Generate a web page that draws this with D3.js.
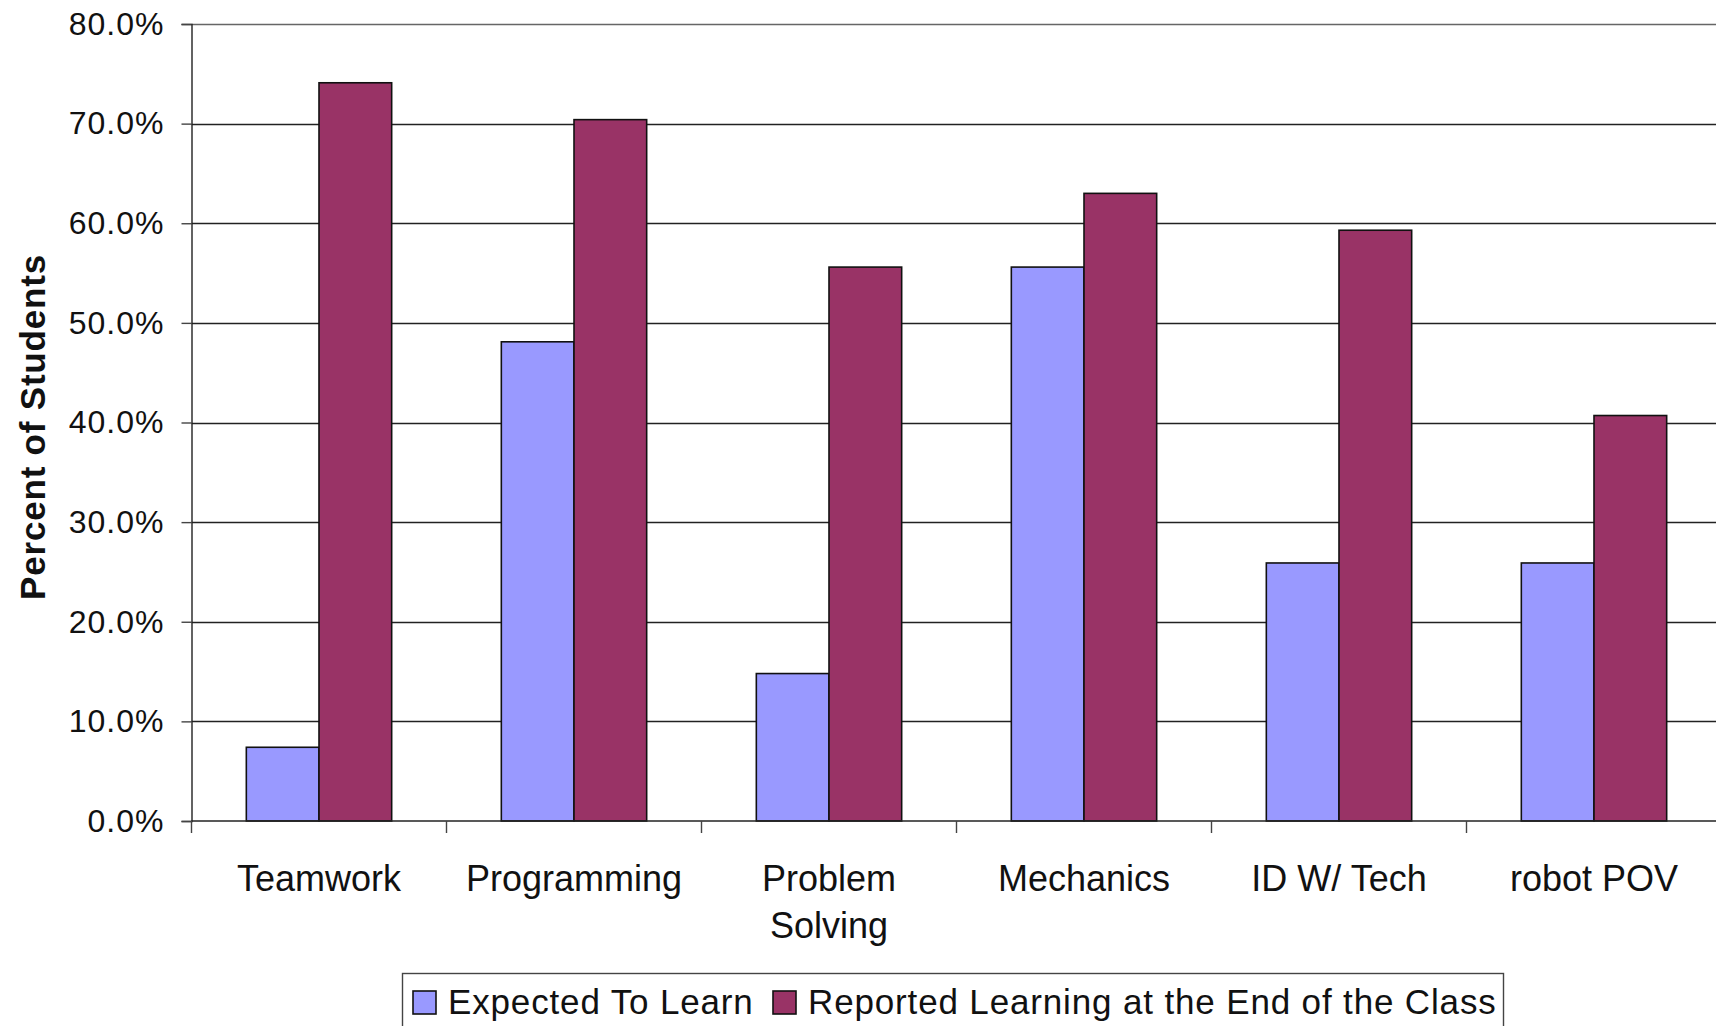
<!DOCTYPE html>
<html lang="en">
  <head>
    <meta charset="UTF-8" />
    <title>Percent of Students</title>
    <style>
      body { margin: 0; background: #fff; overflow: hidden; }
      svg { display: block; font-family: "Liberation Sans", Arial, sans-serif; }
    </style>
  </head>
  <body>
    <script src="https://cdn.jsdelivr.net/npm/d3@7/dist/d3.min.js"></script>
    <script>
    // data
    var categories = ["Teamwork", "Programming", "Problem Solving", "Mechanics", "ID W/ Tech", "robot POV"];
    var seriesNames = ["Expected To Learn", "Reported Learning at the End of the Class"];
    var expected = [0.074, 0.481, 0.148, 0.556, 0.259, 0.259];
    var reported = [0.741, 0.704, 0.556, 0.630, 0.593, 0.407];
    var yTicks = [0, 0.1, 0.2, 0.3, 0.4, 0.5, 0.6, 0.7, 0.8];
    var colors = ["#9999ff", "#993366"];

    var width = 1716, height = 1026;
    var margin = { left: 191.5, right: 1721.5, top: 24, bottom: 821 };

    var svg = d3.select("body").append("svg")
      .attr("width", width)
      .attr("height", height);

    var y = d3.scaleLinear().domain([0, 0.8]).range([margin.bottom, margin.top]);

    var x0 = d3.scaleBand()
      .domain(categories)
      .range([margin.left, margin.right])
      .paddingInner(0.43)
      .paddingOuter(0.215);

    var x1 = d3.scaleBand()
      .domain(seriesNames)
      .range([0, x0.bandwidth()]);

    // gridlines
    svg.append("g").selectAll("line")
      .data(yTicks.slice(1))
      .enter()
      .append("line")
      .attr("x1", margin.left)
      .attr("x2", width)
      .attr("y1", function(d) { return Math.round(y(d)) + 0.5; })
      .attr("y2", function(d) { return Math.round(y(d)) + 0.5; })
      .attr("stroke", function(d, i) { return i == yTicks.length - 2 ? "#666" : "#222"; })
      .attr("stroke-width", 1.4);

    // bars
    var rows = categories.map(function(c, i) {
      return { cat: c, vals: [expected[i], reported[i]] };
    });

    var groups = svg.append("g").selectAll("g")
      .data(rows)
      .enter()
      .append("g")
      .attr("transform", function(d) { return "translate(" + x0(d.cat) + ",0)"; });

    groups.selectAll("rect")
      .data(function(d) { return d.vals.map(function(v, j) { return { name: seriesNames[j], v: v, j: j }; }); })
      .enter()
      .append("rect")
      .attr("x", function(d) { return x1(d.name); })
      .attr("y", function(d) { return y(d.v); })
      .attr("width", x1.bandwidth())
      .attr("height", function(d) { return margin.bottom - y(d.v); })
      .attr("fill", function(d) { return colors[d.j]; })
      .attr("stroke", "#111")
      .attr("stroke-width", 1.6);

    // y axis
    var yAxis = d3.axisLeft(y)
      .tickValues(yTicks)
      .tickFormat(d3.format(".1%"))
      .tickSize(10)
      .tickPadding(17);

    var ya = svg.append("g")
      .attr("transform", "translate(" + margin.left + ",0)")
      .call(yAxis);
    ya.select(".domain").attr("stroke", "#222").attr("stroke-width", 1.4);
    ya.selectAll(".tick line").attr("stroke", "#444").attr("stroke-width", 1.4);
    ya.selectAll("text")
      .attr("font-size", "32px")
      .attr("letter-spacing", "1px")
      .attr("fill", "#111")
      .attr("font-family", "Liberation Sans, Arial, sans-serif");

    // x baseline + category ticks
    svg.append("line")
      .attr("x1", margin.left).attr("x2", width)
      .attr("y1", margin.bottom).attr("y2", margin.bottom)
      .attr("stroke", "#222").attr("stroke-width", 1.6);

    var bounds = categories.map(function(c) { return x0(c) - x0.step() * 0.215; });
    svg.append("g").selectAll("line")
      .data(bounds)
      .enter()
      .append("line")
      .attr("x1", function(d) { return d; })
      .attr("x2", function(d) { return d; })
      .attr("y1", margin.bottom)
      .attr("y2", margin.bottom + 12)
      .attr("stroke", "#444")
      .attr("stroke-width", 1.4);

    // category labels
    var labels = svg.append("g").selectAll("text")
      .data(categories)
      .enter()
      .append("text")
      .attr("x", function(d) { return x0(d) + x0.bandwidth() / 2; })
      .attr("y", 891)
      .attr("text-anchor", "middle")
      .attr("font-size", "36px")
      .attr("fill", "#111");

    labels.each(function(d) {
      var words = d == "Problem Solving" ? ["Problem", "Solving"] : [d];
      var t = d3.select(this);
      words.forEach(function(w, k) {
        t.append("tspan")
          .attr("x", t.attr("x"))
          .attr("dy", k == 0 ? 0 : 47)
          .text(w);
      });
    });

    // y title
    svg.append("text")
      .attr("transform", "translate(45,427) rotate(-90)")
      .attr("text-anchor", "middle")
      .attr("font-size", "35px")
      .attr("letter-spacing", "0.8px")
      .attr("font-weight", "bold")
      .attr("fill", "#111")
      .text("Percent of Students");

    // legend
    var legend = svg.append("g");
    legend.append("rect")
      .attr("x", 402.5).attr("y", 973.5)
      .attr("width", 1101).attr("height", 80)
      .attr("fill", "#fff")
      .attr("stroke", "#444")
      .attr("stroke-width", 1.4);

    var legX = [413, 773];
    var items = legend.selectAll("g.item")
      .data(seriesNames)
      .enter()
      .append("g")
      .attr("class", "item")
      .attr("transform", function(d, i) { return "translate(" + legX[i] + ",0)"; });

    items.append("rect")
      .attr("x", 0).attr("y", 991)
      .attr("width", 23).attr("height", 23)
      .attr("fill", function(d, i) { return colors[i]; })
      .attr("stroke", "#111")
      .attr("stroke-width", 1.6);

    items.append("text")
      .attr("x", 35)
      .attr("y", 1014)
      .attr("font-size", "35px")
      .attr("letter-spacing", "0.85px")
      .attr("fill", "#111")
      .text(function(d) { return d; });
    </script>
  </body>
</html>
